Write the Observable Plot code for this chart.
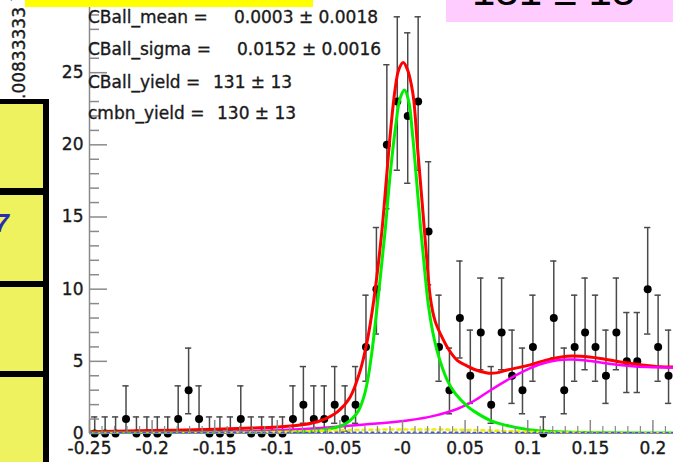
<!DOCTYPE html>
<html><head><meta charset="utf-8">
<script src="https://cdn.jsdelivr.net/npm/d3@7"></script>
<script src="https://cdn.jsdelivr.net/npm/@observablehq/plot@0.6"></script>
<style>
html,body{margin:0;padding:0;background:#fff;overflow:hidden}
#wrap{position:relative;width:673px;height:462px}
svg{display:block}
.thick{stroke:#1a1a1a;stroke-width:0.35px}
</style></head><body><div id="wrap"></div>
<script>
// ---- data ----
const binLow = -0.25, binWidth = 0.00833333;
const counts = [0,0,0,1,0,0,0,0,1,3,1,0,0,0,1,0,0,0,0,1,2,1,1,2,1,2,6,10,20,23,22,23,14,6,3,8,4,7,2,7,4,3,6,0,8,3,6,7,6,4,7,5,5,10,6,4];
// Poisson 68% interval bounds indexed by count
const poissonLow  = [0,0.173,0.708,1.367,2.086,2.840,3.620,4.419,5.232,6.057,6.891,7.734,8.585,9.441,10.30,11.17,12.04,12.92,13.80,14.68,15.57,16.45,17.34,18.24,19.13];
const poissonHigh = [1.148,3.300,4.638,5.918,7.163,8.382,9.584,10.77,11.95,13.11,14.27,15.42,16.56,17.70,18.83,19.96,21.08,22.20,23.32,24.43,25.55,26.66,27.76,28.87,29.97];

const totalCurve = [[-0.25,0.12],[-0.2,0.2],[-0.15,0.3],[-0.12,0.38],[-0.1,0.45],[-0.08,0.6],[-0.065,0.9],[-0.052,1.5],[-0.042,2.5],[-0.034,4.3],[-0.028,6.5],[-0.023,9.2],[-0.0165,14.0],[-0.013,17.5],[-0.0095,21.0],[-0.006,23.8],[-0.003,25.2],[0.0006,25.7],[0.004,25.2],[0.007,24.2],[0.009,23.1],[0.0122,19.6],[0.0157,16.0],[0.019,12.5],[0.0224,9.3],[0.026,7.8],[0.0303,6.9],[0.037,5.8],[0.0437,5.07],[0.05,4.75],[0.057,4.45],[0.0677,4.19],[0.075,4.2],[0.0836,4.4],[0.0996,4.7],[0.1156,5.1],[0.1315,5.35],[0.1422,5.35],[0.1581,5.2],[0.1741,4.95],[0.19,4.77],[0.206,4.62],[0.2165,4.6]];
const cballCurve = [[-0.25,0.03],[-0.15,0.05],[-0.1,0.08],[-0.08,0.13],[-0.065,0.22],[-0.055,0.38],[-0.047,0.6],[-0.04,1.05],[-0.035,1.6],[-0.031,2.5],[-0.028,3.6],[-0.0245,5.6],[-0.021,8.2],[-0.0175,11.0],[-0.0136,14.3],[-0.01,17.8],[-0.0056,21.2],[-0.002,23.2],[0.0016,23.8],[0.005,23.0],[0.0077,21.0],[0.011,17.8],[0.0144,14.3],[0.0175,11.5],[0.0205,9.0],[0.024,7.1],[0.0277,5.7],[0.032,4.5],[0.0357,3.7],[0.041,2.9],[0.0463,2.35],[0.0517,1.9],[0.057,1.55],[0.0703,0.9],[0.0836,0.55],[0.0996,0.28],[0.115,0.15],[0.135,0.08],[0.16,0.05],[0.2165,0.03]];
const cmbnCurve = [[-0.25,0.04],[-0.2,0.07],[-0.15,0.12],[-0.1,0.22],[-0.065,0.38],[-0.0495,0.49],[-0.023,0.67],[0.004,0.9],[0.025,1.22],[0.0437,1.7],[0.057,2.25],[0.0703,3.0],[0.0836,3.7],[0.097,4.33],[0.11,4.8],[0.1236,5.08],[0.137,5.12],[0.15,5.02],[0.1635,4.85],[0.1795,4.7],[0.1955,4.6],[0.2165,4.56]];
const yellowCurve = [[-0.25,0.0],[-0.15,0.03],[-0.1,0.1],[-0.05,0.22],[0.0,0.28],[0.05,0.25],[0.1,0.12],[0.15,0.05],[0.2165,0.02]];
const blueCurve = [[-0.25,0.03],[-0.1,0.05],[0.0,0.07],[0.1,0.05],[0.2165,0.03]];

const yMajor = [0,5,10,15,20,25];
const yMinor = [1,2,3,4,6,7,8,9,11,12,13,14,16,17,18,19,21,22,23,24,26,27,28,29];
const xMajor = [-0.25,-0.2,-0.15,-0.1,-0.05,0,0.05,0.1,0.15,0.2];
const xTickLabels = ["-0.25","-0.2","-0.15","-0.1","-0.05","-0","0.05","0.1","0.15","0.2"];
const xMinor = [-0.24,-0.23,-0.22,-0.21,-0.19,-0.18,-0.17,-0.16,-0.14,-0.13,-0.12,-0.11,-0.09,-0.08,-0.07,-0.06,-0.04,-0.03,-0.02,-0.01,0.01,0.02,0.03,0.04,0.06,0.07,0.08,0.09,0.11,0.12,0.13,0.14,0.16,0.17,0.18,0.19,0.21];
const paramNames = ["CBall_mean =","CBall_sigma =","CBall_yield =","cmbn_yield ="];
const paramValues = ["0.0003 \u00b1 0.0018","0.0152 \u00b1 0.0016","131 \u00b1 13","130 \u00b1 13"];
const yTitle = "Events / ( 0.00833333 )";
const boxText = "131 \u00b1 13";

// ---- build ----
const bins = counts.map((n,i)=>({x: binLow + (i+0.5)*binWidth, n, lo: poissonLow[n], hi: poissonHigh[n]}));
const pts = a => a.map(([x,y])=>({x,y}));
const cap = binWidth*0.3;
const W = 673, H = 462, ML = 89, MB = 29;
const font = "DejaVu Sans";
const axisGray = "#8a8a8a";

const svg = Plot.plot({
  width: W, height: H, marginLeft: ML, marginRight: 0, marginTop: 0, marginBottom: MB,
  x: {domain: [-0.25, 0.21645], axis: null},
  y: {domain: [0, 30], axis: null},
  style: {background: "#fff", fontFamily: font, overflow: "visible"},
  marks: [
    Plot.ruleX(bins, {x: "x", y1: "lo", y2: "hi", stroke: "#4a4a4a", strokeWidth: 1.5}),
    Plot.ruleY(bins, {y: "hi", x1: d => d.x - cap, x2: d => d.x + cap, stroke: "#4a4a4a", strokeWidth: 1.5}),
    Plot.ruleY(bins, {y: "lo", x1: d => d.x - cap, x2: d => d.x + cap, stroke: "#4a4a4a", strokeWidth: 1.5}),
    Plot.dot(bins, {x: "x", y: "n", r: 4, fill: "#000"}),
    Plot.line(pts(totalCurve), {x: "x", y: "y", stroke: "#ff0000", strokeWidth: 3, curve: "catmull-rom", clip: true}),
    Plot.line(pts(cmbnCurve), {x: "x", y: "y", stroke: "#ff00ff", strokeWidth: 2.5, curve: "catmull-rom", clip: true}),
    Plot.line(pts(cballCurve), {x: "x", y: "y", stroke: "#00ee00", strokeWidth: 3, curve: "catmull-rom", clip: true}),
    Plot.line(pts(yellowCurve), {x: "x", y: "y", stroke: "#eeee00", strokeWidth: 2.5, strokeDasharray: "3,4", curve: "catmull-rom", clip: true}),
    Plot.line(pts(blueCurve), {x: "x", y: "y", stroke: "#3355ff", strokeWidth: 2, strokeDasharray: "2,4", curve: "catmull-rom", clip: true}),
    // axes (ROOT style, ticks inside)
    Plot.ruleX([-0.25], {stroke: axisGray, strokeWidth: 1.5}),
    Plot.ruleY([0], {stroke: axisGray, strokeWidth: 1}),
    Plot.tickY(yMajor, {y: d => d, stroke: axisGray, strokeWidth: 1.5, insetRight: W - ML - 18}),
    Plot.tickY(yMinor, {y: d => d, stroke: axisGray, strokeWidth: 1.5, insetRight: W - ML - 10}),
    Plot.tickX(xMajor, {x: d => d, stroke: axisGray, strokeWidth: 1.5, insetTop: H - MB - 13}),
    Plot.tickX(xMinor, {x: d => d, stroke: axisGray, strokeWidth: 1.2, insetTop: H - MB - 7}),
    Plot.text(yMajor, {y: d => d, frameAnchor: "left", dx: -6, textAnchor: "end", text: d => String(d), fontSize: 17, fill: "#1a1a1a", className: "thick"}),
    Plot.text(xMajor, {x: d => d, frameAnchor: "bottom", lineAnchor: "middle", dy: 15, text: (d, i) => xTickLabels[i], fontSize: 17, fill: "#1a1a1a", className: "thick"})
  ]
});
document.getElementById("wrap").appendChild(svg);

const s = d3.select(svg);
// parameter box text
const baselines = [23, 55, 88, 119];
const valueX = [234, 237, 213, 217];
paramNames.forEach((t, i) => {
  s.append("text").attr("x", 88).attr("y", baselines[i]).attr("text-anchor", "start").attr("font-family", font).attr("font-size", 17)
    .attr("fill", "#1a1a1a").attr("class", "thick").text(t);
  s.append("text").attr("x", valueX[i]).attr("y", baselines[i]).attr("text-anchor", "start").attr("font-family", font).attr("font-size", 17)
    .attr("fill", "#1a1a1a").attr("class", "thick").text(paramValues[i]);
});
// y-axis title (rotated, partly covered)
s.append("text").attr("transform", "translate(25,-5) rotate(-90)").attr("text-anchor", "end")
  .attr("font-family", font).attr("font-size", 17).attr("fill", "#1a1a1a").attr("class", "thick").text(yTitle);

// slide decorations overlapping the chart
s.append("rect").attr("x", 25).attr("y", 0).attr("width", 288).attr("height", 7).attr("fill", "#ffff00");
s.append("rect").attr("x", 446).attr("y", 0).attr("width", 227).attr("height", 22).attr("fill", "#ffccff");
s.append("text").attr("x", 472).attr("y", 5).attr("text-anchor", "start").attr("font-family", "Liberation Sans").attr("font-size", 42)
  .attr("fill", "#000").text(boxText);
s.append("rect").attr("x", -5).attr("y", 99).attr("width", 54).attr("height", 370).attr("fill", "#000");
[[104,188],[195,281],[287,371],[377,470]].forEach(([a,b]) => {
  s.append("rect").attr("x", -5).attr("y", a).attr("width", 48).attr("height", b - a).attr("fill", "#eef25f");
});
s.append("text").attr("x", 9).attr("y", 232).attr("text-anchor", "end").attr("font-family", "Liberation Sans")
  .attr("font-style", "italic").attr("font-weight", "bold").attr("font-size", 26).attr("fill", "#2b2bb0").text("7");
</script></body></html>
